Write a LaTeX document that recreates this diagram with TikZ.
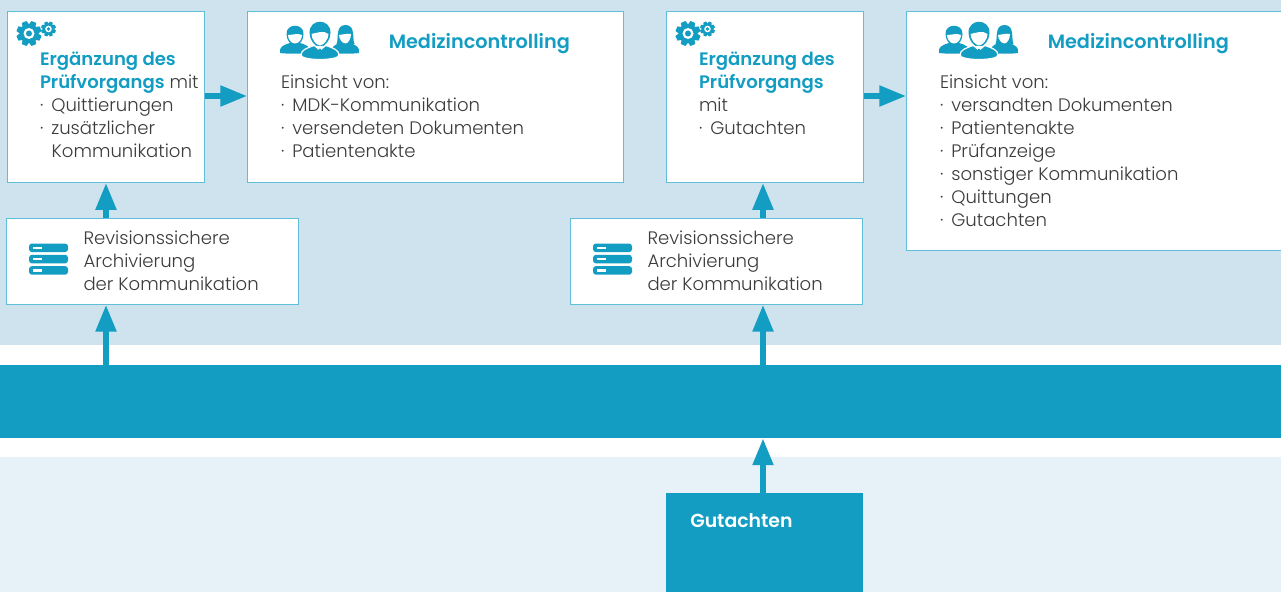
\documentclass[tikz,border=0pt]{standalone}
\usepackage{fontspec}
\setmainfont{Poppins Light}[BoldFont={Poppins SemiBold}]
\usetikzlibrary{arrows.meta,calc}
\definecolor{teal}{HTML}{149DC2}
\definecolor{topbg}{HTML}{CFE3EF}
\definecolor{lowbg}{HTML}{E7F2F8}
\definecolor{edge}{HTML}{5FBFD8}
\definecolor{ink}{HTML}{3C3C3C}
\tikzset{
  x=0.75pt,y=-0.75pt,
  card/.style={draw=edge,line width=0.9pt,fill=white},
  txt/.style={anchor=north west,inner sep=0pt,outer sep=0pt,align=left,text=ink,font=\fontsize{13.55pt}{17.25pt}\selectfont},
  flow/.style={draw=teal,line width=3.9pt,-{Triangle[length=20pt,width=15pt]}},
  pics/gear/.style={code={
    \fill[teal] (0,0) circle (#1*0.76);
    \foreach \a in {0,45,...,315}{
      \fill[teal,rotate=\a+22.5] (-#1*0.3,#1*0.6) -- (-#1*0.2,#1) -- (#1*0.2,#1) -- (#1*0.3,#1*0.6) -- cycle;}
    \fill[white] (0,0) circle (#1*0.44);
    \fill[teal] (0,0) circle (#1*0.24);
  }},
  pics/team/.style={code={
    % left person
    \fill[teal] (-40,17) .. controls (-41,11) and (-37,9) .. (-30,7) -- (-20,7) .. controls (-13,9) and (-9,11) .. (-10,17) .. controls (-18,18) and (-32,18) .. (-40,17) -- cycle;
    \fill[teal] (-33.5,-2) .. controls (-34,-13) and (-16,-13) .. (-16.5,-2) .. controls (-16.5,4) and (-20,9) .. (-25,9) .. controls (-30,9) and (-33.5,4) .. (-33.5,-2) -- cycle;
    \fill[white] (-32,-1) .. controls (-28,-1) and (-22,-3) .. (-18,-1) .. controls (-18,3) and (-21,7.5) .. (-25,7.5) .. controls (-29,7.5) and (-32,3) .. (-32,-1) -- cycle;
    % right person
    \fill[teal] (12,17) .. controls (11,11) and (14,9) .. (20,7) -- (30,7) .. controls (36,9) and (40,11) .. (39,17) .. controls (32,18) and (20,18) .. (12,17) -- cycle;
    \fill[teal] (16.5,8) .. controls (19,3) and (15,-11) .. (25.5,-11) .. controls (36,-11) and (32,3) .. (34.5,8) -- cycle;
    \fill[white] (19,-1) .. controls (23,-1) and (26,-3) .. (31,-2) .. controls (31,3) and (28,7.5) .. (25.5,7.5) .. controls (22.5,7.5) and (19,3) .. (19,-1) -- cycle;
    % centre person
    \draw[white,line width=0.9pt,fill=teal] (-19,19) .. controls (-19,14) and (-13,12) .. (-6,9.5) -- (6,9.5) .. controls (13,12) and (19,14) .. (19,19) .. controls (19,25) and (-19,25) .. (-19,19) -- cycle;
    \fill[teal] (-10.5,-3) .. controls (-11,-18) and (11,-18) .. (10.5,-3) .. controls (10.5,4) and (5,11) .. (0,11) .. controls (-5,11) and (-10.5,4) .. (-10.5,-3) -- cycle;
    \fill[white] (-8.5,-2) .. controls (-4,-3) and (4,-6) .. (8.5,-2) .. controls (8.5,3) and (4,9.3) .. (0,9.3) .. controls (-4,9.3) and (-8.5,3) .. (-8.5,-2) -- cycle;
    \fill[white] (-6,10) -- (0,15) -- (6,10) -- cycle;
    \fill[teal] (-1,13) -- (1,13) -- (1.8,20) -- (-1.8,20) -- cycle;
  }},
  pics/rack/.style={code={
    \foreach \y in {0,11.3,22.6}{
      \fill[teal,rounded corners=2.2pt] (0,\y) rectangle (39,\y+8.6);
      \fill[white] (4,\y+3) rectangle (13,\y+5.5);}
  }}
}
\begin{document}
\begin{tikzpicture}
\useasboundingbox (0,0) rectangle (1281,592);
\fill[white] (0,0) rectangle (1281,592);
\fill[topbg] (0,0) rectangle (1281,345);
\fill[lowbg] (0,457) rectangle (1281,592);
\node[fill=teal,inner sep=0pt,minimum width=960.75pt,minimum height=54.75pt,anchor=north west] (band) at (0,365) {};
\node[fill=teal,inner sep=0pt,minimum width=147.75pt,minimum height=74.25pt,anchor=north west] (gut) at (666,493) {};
\node[anchor=base west,inner sep=0pt,text=white,font=\fontsize{14.15pt}{15pt}\selectfont\bfseries] (gutt) at (690,527) {Gutachten};
% cards
\node[card,inner sep=0pt,anchor=north west,minimum width=147.4pt,minimum height=128.2pt] (a) at (7,11) {};
\node[card,inner sep=0pt,anchor=north west,minimum width=282pt,minimum height=128.2pt] (b) at (247,11) {};
\node[card,inner sep=0pt,anchor=north west,minimum width=147.4pt,minimum height=128.2pt] (c) at (666,11) {};
\node[card,inner sep=0pt,anchor=north west,minimum width=290pt,minimum height=179.2pt] (d) at (906,11) {};
\node[card,inner sep=0pt,anchor=north west,minimum width=219pt,minimum height=64.3pt] (e) at (6,218) {};
\node[card,inner sep=0pt,anchor=north west,minimum width=219pt,minimum height=64.3pt] (f) at (570,218) {};
% anchors for connectors
\coordinate (xl) at (106,0);
\coordinate (xr) at (763,0);
\coordinate (yu) at (0,96);
% arrows
\draw[flow] (band.north -| xl) -- (e.south -| xl);
\draw[flow] (e.north -| xl) -- (a.south -| xl);
\draw[flow] (band.north -| xr) -- (f.south -| xr);
\draw[flow] (f.north -| xr) -- (c.south -| xr);
\draw[flow] (gut.north -| xr) -- (band.south -| xr);
\draw[flow] (a.east |- yu) -- (b.west |- yu);
\draw[flow] (c.east |- yu) -- (d.west |- yu);
% icons
\pic at (29,33.5) {gear=12.5};
\pic at (48.5,29) {gear=7.5};
\pic at (688,33.5) {gear=12.5};
\pic at (707.5,29) {gear=7.5};
\pic at (320,36) {team};
\pic at (979,36) {team};
\pic at (29,243.5) {rack};
\pic at (593,243.5) {rack};
% text
\node[txt] (at) at (40,52) {\textcolor{teal}{\bfseries Ergänzung des}\\\textcolor{teal}{\bfseries Prüfvorgangs} mit\\·\hspace{6pt}Quittierungen\\·\hspace{6pt}zusätzlicher\\\hspace{8.8pt}Kommunikation};
\node[txt] (ct) at (699,52) {\textcolor{teal}{\bfseries Ergänzung des}\\\textcolor{teal}{\bfseries Prüfvorgangs}\\mit\\·\hspace{6pt}Gutachten};
\node[anchor=base west,inner sep=0pt,text=teal,font=\fontsize{14.45pt}{16pt}\selectfont\bfseries] (bh) at (388.5,48.5) {Medizincontrolling};
\node[anchor=base west,inner sep=0pt,text=teal,font=\fontsize{14.45pt}{16pt}\selectfont\bfseries] (dh) at (1047.5,48.5) {Medizincontrolling};
\node[txt] (bt) at (281,75) {Einsicht von:\\·\hspace{6pt}MDK-Kommunikation\\·\hspace{6pt}versendeten Dokumenten\\·\hspace{6pt}Patientenakte};
\node[txt] (dt) at (940,75) {Einsicht von:\\·\hspace{6pt}versandten Dokumenten\\·\hspace{6pt}Patientenakte\\·\hspace{6pt}Prüfanzeige\\·\hspace{6pt}sonstiger Kommunikation\\·\hspace{6pt}Quittungen\\·\hspace{6pt}Gutachten};
\node[txt] (et) at (83.5,231) {Revisionssichere\\Archivierung\\der Kommunikation};
\node[txt] (ft) at (647.5,231) {Revisionssichere\\Archivierung\\der Kommunikation};
\end{tikzpicture}
\end{document}
